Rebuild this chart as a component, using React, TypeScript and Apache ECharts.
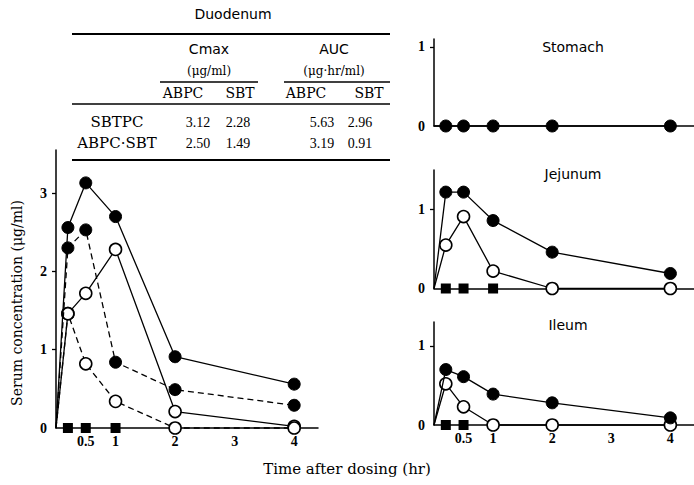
import React, { useEffect, useRef } from "react";
import * as echarts from "echarts";

// ---- data ----
const times = [0, 0.2, 0.5, 1, 2, 4];
// Duodenum
const duoSbtpcAbpc = [0, 2.56, 3.13, 2.70, 0.91, 0.56]; // solid, filled
const duoAbpcSbtAbpc = [0, 2.30, 2.53, 0.84, 0.49, 0.29]; // dashed, filled
const duoSbtpcSbt = [0, 1.46, 1.72, 2.28, 0.21, 0.02]; // solid, open
const duoAbpcSbtSbt = [0, 1.46, 0.82, 0.34, 0, 0]; // dashed, open
const duoSquareTimes = [0.2, 0.5, 1];
const duoSquareVals = [0, 0, 0];
// Stomach
const stoAbpc = [0, 0, 0, 0, 0, 0];
// Jejunum
const jejAbpc = [0, 1.22, 1.22, 0.86, 0.46, 0.19];
const jejSbt = [0, 0.55, 0.91, 0.22, 0, 0];
const jejSquareTimes = [0.2, 0.5, 1];
const jejSquareVals = [0, 0, 0];
// Ileum
const ileAbpc = [0, 0.70, 0.61, 0.39, 0.28, 0.09];
const ileSbt = [0, 0.52, 0.23, 0, 0, 0];
const ileSquareTimes = [0.2, 0.5];
const ileSquareVals = [0, 0];

// axis tick labels
const xTickLabels = [0.5, 1, 2, 3, 4];
const mainYTicks = [0, 1, 2, 3];
const sideYTicks = [0, 1];

// table
const tableRows = ["SBTPC", "ABPC·SBT"];
const cmaxAbpc = [3.12, 2.50];
const cmaxSbt = [2.28, 1.49];
const aucAbpc = [5.63, 3.19];
const aucSbt = [2.96, 0.91];

const SERIF = '"DejaVu Serif", "Liberation Serif", serif';
const SANS = '"DejaVu Sans", "Liberation Sans", sans-serif';
const TICKFONT = '"Liberation Serif", "DejaVu Serif", serif';

function toData(vals: number[]) {
  return times.map((t, i) =>
    i === 0 ? { value: [t, vals[i]], symbol: "none" } : { value: [t, vals[i]] }
  );
}

function lineSeries(grid: number, vals: number[], filled: boolean, dashed: boolean) {
  return {
    type: "line",
    xAxisIndex: grid,
    yAxisIndex: grid,
    data: toData(vals),
    symbol: "circle",
    symbolSize: 12,
    clip: false,
    z: filled ? 4 : 3,
    lineStyle: { color: "#000", width: 1.3, type: dashed ? [6, 4] : "solid" },
    itemStyle: filled
      ? { color: "#000", borderColor: "#000", borderWidth: 1, opacity: 1 }
      : { color: "#fff", borderColor: "#000", borderWidth: 1.6, opacity: 1 },
  };
}

function squareSeries(grid: number, ts: number[], vs: number[]) {
  return {
    type: "scatter",
    xAxisIndex: grid,
    yAxisIndex: grid,
    data: ts.map((t, i) => [t, vs[i]]),
    symbol: "rect",
    symbolSize: 10,
    clip: false,
    z: 5,
    itemStyle: { color: "#000", opacity: 1 },
  };
}

function xAxis(grid: number, labels: boolean) {
  return {
    type: "value",
    gridIndex: grid,
    min: 0,
    max: 4.4,
    splitLine: { show: false },
    axisTick: { show: false },
    axisLine: { show: true, onZero: false, lineStyle: { color: "#000", width: 1.5 } },
    axisLabel: {
      show: labels,
      customValues: xTickLabels,
      color: "#000",
      fontFamily: TICKFONT,
      fontWeight: "bold",
      fontSize: 14,
      margin: 6,
    },
  };
}

function yAxis(grid: number, max: number, ticks: number[]) {
  return {
    type: "value",
    gridIndex: grid,
    min: 0,
    max,
    interval: 1,
    splitLine: { show: false },
    axisLine: { show: true, onZero: false, lineStyle: { color: "#000", width: 1.5 } },
    axisTick: {
      show: true,
      customValues: ticks.filter((v) => v > 0),
      length: 4,
      lineStyle: { color: "#000", width: 1.3 },
    },
    axisLabel: {
      customValues: ticks,
      color: "#000",
      fontFamily: TICKFONT,
      fontWeight: "bold",
      fontSize: 14,
      margin: 9,
    },
  };
}

function txt(text: string, x: number, y: number, font: string, size: number, align = "center", weight = "normal") {
  return {
    type: "text",
    x,
    y,
    silent: true,
    style: {
      text,
      fill: "#000",
      fontFamily: font,
      fontSize: size,
      fontWeight: weight,
      textAlign: align,
      textVerticalAlign: "middle",
    },
  };
}

function hline(x1: number, x2: number, y: number, w = 1.5) {
  return {
    type: "line",
    silent: true,
    shape: { x1, y1: y, x2, y2: y },
    style: { stroke: "#000", lineWidth: w },
  };
}

export default function App() {
  const ref = useRef<HTMLDivElement>(null);

  useEffect(() => {
    if (!ref.current) return;
    const chart = echarts.init(ref.current, null, { renderer: "svg" });

    const colX = [198, 238, 322, 360];
    const graphic: any[] = [
      txt("Duodenum", 233, 14, SANS, 14),
      hline(72, 390, 34, 1.8),
      txt("Cmax", 209, 49, SANS, 14),
      txt("(μg/ml)", 209, 71, SERIF, 12),
      txt("AUC", 334, 49, SANS, 14),
      txt("(μg·hr/ml)", 334, 71, SERIF, 12),
      hline(160, 258, 82, 1.5),
      hline(284, 390, 82, 1.5),
      txt("ABPC", 183, 93, SERIF, 14),
      txt("SBT", 240, 93, SERIF, 14),
      txt("ABPC", 306, 93, SERIF, 14),
      txt("SBT", 369, 93, SERIF, 14),
      hline(72, 390, 104, 1.5),
      hline(72, 390, 160, 1.8),
      txt("Stomach", 573, 47, SANS, 14),
      txt("Jejunum", 573, 174, SANS, 14),
      txt("Ileum", 568, 325, SANS, 14),
      txt("Time after dosing (hr)", 347, 469, SERIF, 15),
      {
        type: "text",
        x: 17,
        y: 303,
        rotation: Math.PI / 2,
        silent: true,
        style: {
          text: "Serum concentration (μg/ml)",
          fill: "#000",
          fontFamily: SERIF,
          fontSize: 14,
          textAlign: "center",
          textVerticalAlign: "middle",
        },
      },
    ];
    const rowY = [122, 143];
    tableRows.forEach((name, i) => {
      graphic.push(txt(name, 117, rowY[i], SERIF, 15));
      graphic.push(txt(cmaxAbpc[i].toFixed(2), colX[0], rowY[i], TICKFONT, 14));
      graphic.push(txt(cmaxSbt[i].toFixed(2), colX[1], rowY[i], TICKFONT, 14));
      graphic.push(txt(aucAbpc[i].toFixed(2), colX[2], rowY[i], TICKFONT, 14));
      graphic.push(txt(aucSbt[i].toFixed(2), colX[3], rowY[i], TICKFONT, 14));
    });

    const option: any = {
      animation: false,
      backgroundColor: "#fff",
      grid: [
        { left: 56, top: 150, width: 262, height: 278 },
        { left: 434, top: 39, width: 262, height: 87 },
        { left: 434, top: 170, width: 262, height: 118.5 },
        { left: 434, top: 322, width: 262, height: 103 },
      ],
      xAxis: [xAxis(0, true), xAxis(1, false), xAxis(2, false), xAxis(3, true)],
      yAxis: [
        yAxis(0, 3.55, mainYTicks),
        yAxis(1, 1.1, sideYTicks),
        yAxis(2, 1.5, sideYTicks),
        yAxis(3, 1.3, sideYTicks),
      ],
      graphic,
      series: [
        lineSeries(0, duoSbtpcSbt, false, false),
        lineSeries(0, duoAbpcSbtSbt, false, true),
        lineSeries(0, duoSbtpcAbpc, true, false),
        lineSeries(0, duoAbpcSbtAbpc, true, true),
        squareSeries(0, duoSquareTimes, duoSquareVals),
        lineSeries(1, stoAbpc, true, false),
        lineSeries(2, jejSbt, false, false),
        lineSeries(2, jejAbpc, true, false),
        squareSeries(2, jejSquareTimes, jejSquareVals),
        lineSeries(3, ileSbt, false, false),
        lineSeries(3, ileAbpc, true, false),
        squareSeries(3, ileSquareTimes, ileSquareVals),
      ],
    };
    chart.setOption(option);
    return () => chart.dispose();
  }, []);

  return (
    <div
      ref={ref}
      style={{ position: "fixed", left: 0, top: 0, width: 694, height: 485, background: "#fff" }}
    />
  );
}
